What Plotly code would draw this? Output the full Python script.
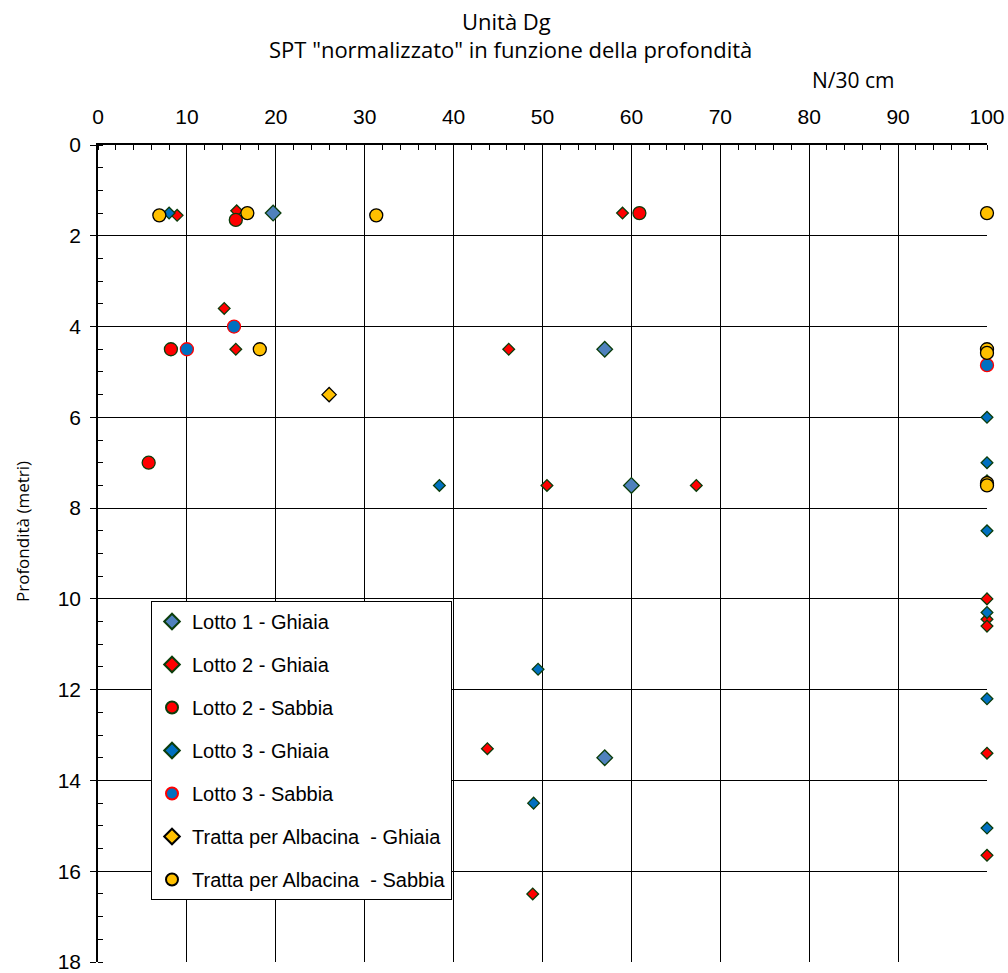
import plotly.graph_objects as go

# ---- data ----
l1g_x = [19.7, 57.0, 60.0, 57.0]
l1g_y = [1.5, 4.5, 7.5, 13.5]

l2g_x = [8.9, 15.6, 59.0, 14.2, 15.5, 46.2, 50.5, 67.3, 43.8, 48.9, 100, 100, 100, 100, 100, 100]
l2g_y = [1.55, 1.45, 1.5, 3.6, 4.5, 4.5, 7.5, 7.5, 13.3, 16.5, 7.4, 10.0, 10.45, 10.6, 13.4, 15.65]

l2s_x = [15.5, 60.9, 8.2, 5.7]
l2s_y = [1.65, 1.5, 4.5, 7.0]

l3g_x = [8.0, 38.4, 49.5, 49.0, 100, 100, 100, 100, 100, 100]
l3g_y = [1.5, 7.5, 11.55, 14.5, 6.0, 7.0, 8.5, 10.3, 12.2, 15.05]

l3s_x = [15.3, 10.0, 100]
l3s_y = [4.0, 4.5, 4.85]

tg_x = [26.0]
tg_y = [5.5]

ts_x = [6.9, 16.8, 31.3, 18.2, 100, 100, 100, 100, 100]
ts_y = [1.55, 1.5, 1.55, 4.5, 1.5, 4.5, 4.58, 7.45, 7.5]

names = ["Lotto 1 - Ghiaia", "Lotto 2 - Ghiaia", "Lotto 2 - Sabbia", "Lotto 3 - Ghiaia",
         "Lotto 3 - Sabbia", "Tratta per Albacina  - Ghiaia", "Tratta per Albacina  - Sabbia"]

x_ticks = list(range(0, 101, 10))
y_ticks = list(range(0, 19, 2))

# ---- styles ----
series = [
    (l1g_x, l1g_y, "diamond", 12, "#4F81BD", "#0B3D0B"),
    (l2g_x, l2g_y, "diamond", 9, "#FF0000", "#0B3D0B"),
    (l2s_x, l2s_y, "circle", 13, "#FF0000", "#0B3D0B"),
    (l3g_x, l3g_y, "diamond", 9, "#0070C0", "#0B3D0B"),
    (l3s_x, l3s_y, "circle", 13, "#0070C0", "#FF0000"),
    (tg_x, tg_y, "diamond", 11, "#FFC000", "#000000"),
    (ts_x, ts_y, "circle", 13, "#FFC000", "#000000"),
]

fig = go.Figure()
for i, (xs, ys, sym, sz, col, lc) in enumerate(series):
    fig.add_trace(go.Scatter(
        x=xs, y=ys, mode="markers", name=names[i], legendgroup=str(i),
        marker=dict(symbol=sym, size=sz, color=col, line=dict(color=lc, width=1.3)),
        cliponaxis=False,
    ))

W, H = 1008, 973
L, R, T, B = 98, 21, 145, 11

fig.update_layout(
    width=W, height=H,
    margin=dict(l=L, r=R, t=T, b=B),
    paper_bgcolor="white", plot_bgcolor="white",
    font=dict(family="Liberation Sans, Arial", color="black"),
    legend=dict(
        x=(151 - L) / (W - L - R), y=(H - B - 601) / (H - T - B), xanchor="left", yanchor="top",
        bgcolor="white", bordercolor="black", borderwidth=1,
        font=dict(size=20, family="Liberation Sans, Arial"),
        traceorder="grouped", tracegroupgap=14, itemsizing="constant",
    ),
    xaxis=dict(
        side="top", range=[0, 100], tickvals=x_ticks, ticktext=[str(v) for v in x_ticks],
        automargin=False, ticklabeloverflow="allow",
        showgrid=True, gridcolor="black", gridwidth=1, zeroline=False,
        showline=True, linecolor="black", linewidth=1.5,
        ticks="", ticklabelstandoff=11, tickfont=dict(size=21),
        minor=dict(dtick=2, ticks="inside", ticklen=5, tickcolor="black", showgrid=False),
    ),
    yaxis=dict(
        range=[18, 0], tickvals=y_ticks, ticktext=[str(v) for v in y_ticks],
        automargin=False, ticklabeloverflow="allow",
        showgrid=True, gridcolor="black", gridwidth=1, zeroline=False,
        showline=True, linecolor="black", linewidth=1.5,
        ticks="outside", ticklen=6, tickcolor="black", tickfont=dict(size=21),
        ticklabelstandoff=5,
        minor=dict(dtick=0.5, ticks="inside", ticklen=5, tickcolor="black", showgrid=False),
    ),
    annotations=[
        dict(text="Unità Dg", x=506, y=21, xref="paper", yref="paper", showarrow=False,
             font=dict(size=22, family="Open Sans")),
        dict(text='SPT "normalizzato" in funzione della profondità', x=510, y=49,
             xref="paper", yref="paper", showarrow=False, font=dict(size=22, family="Open Sans")),
        dict(text="N/30 cm", x=853, y=80, xref="paper", yref="paper", showarrow=False,
             font=dict(size=21, family="Open Sans")),
        dict(text="Profondità (metri)", x=22, y=532, xref="paper", yref="paper", showarrow=False,
             textangle=-90, font=dict(size=17, family="Open Sans")),
    ],
)

# convert window-pixel positions of annotations to paper coords
pw = W - L - R
ph = H - T - B
for a in fig.layout.annotations:
    px, py = a.x, a.y
    a.x = (px - L) / pw
    a.y = (H - B - py) / ph
    a.xanchor = "center"
    a.yanchor = "middle"

fig.write_html(
    "out.html",
    config={"displayModeBar": False},
    post_script="document.body.style.margin='0';document.body.style.overflow='hidden';",
)
